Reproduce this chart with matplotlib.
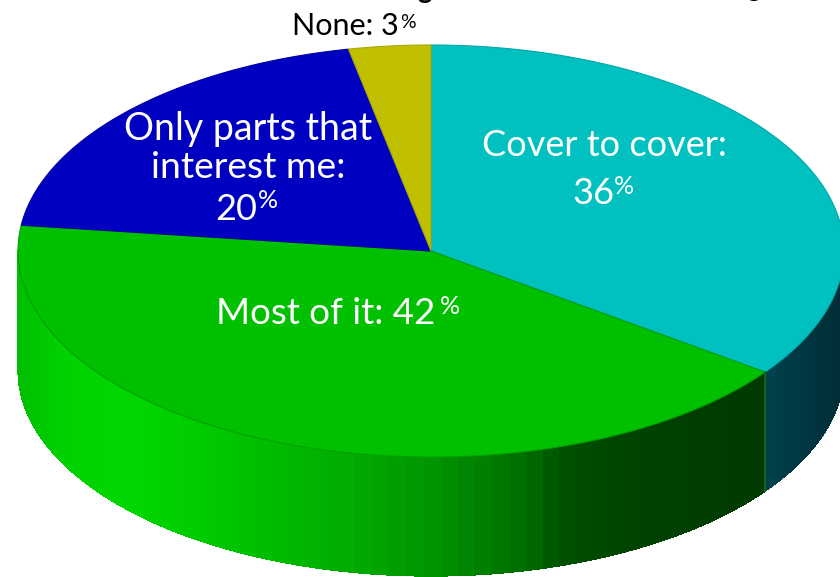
# -*- coding: utf-8 -*-
import matplotlib
matplotlib.use('Agg')
import matplotlib.pyplot as plt
from matplotlib.patches import Polygon
import numpy as np

plt.rcParams['font.family'] = ['Lato', 'DejaVu Sans']

# shares as they sit in the drawing, clockwise from 12 o'clock
categories = ['Cover to cover', 'Most of it', 'Only parts that interest me', 'None']
shares = [35, 42, 19.8, 3.2]

top_colors = ['#00c0c0', '#00c000', '#0000c0', '#c0c000']
edge_colors = ['#00a8a8', '#00a000', '#0000a0', '#a8a800']

# side shading, x position in pixels -> rgb
green_x = [18, 60, 130, 220, 350, 430, 520, 570, 640, 765]
green_rgb = [(0, 190, 0), (0, 208, 0), (0, 216, 0), (0, 198, 0), (0, 172, 0),
             (0, 148, 0), (0, 112, 0), (0, 78, 0), (0, 66, 0), (0, 58, 0)]
cyan_x = [765, 800, 840]
cyan_rgb = [(0, 66, 76), (0, 56, 66), (0, 46, 54)]

cx, cy = 431, 251
rx, ry = 413, 206
depth = 119


def rim(angle):
    # angle in degrees clockwise from the top of the ellipse
    a = np.radians(angle)
    return cx + rx * np.sin(a), cy - ry * np.cos(a)


def band_color(x, xs, rgb):
    vals = [np.interp(x, xs, [c[i] for c in rgb]) / 255 for i in range(3)]
    return tuple(vals)


def draw_side(ax, a0, a1, xs, rgb, step=2.4):
    # narrow vertical strips make the banded gradient of the wall
    angles = np.arange(a0, a1, step)
    for a, b in zip(angles, np.append(angles[1:], a1)):
        x0, y0 = rim(a)
        x1, y1 = rim(b)
        col = band_color((x0 + x1) / 2, xs, rgb)
        ax.add_patch(Polygon([(x0, y0), (x1, y1), (x1, y1 + depth), (x0, y0 + depth)],
                             facecolor=col, edgecolor=col, linewidth=0.3, antialiased=False))


def draw_pie(ax):
    cum = np.cumsum([0] + shares) * 3.6

    # the wall only shows on the front half
    draw_side(ax, 90, cum[1], cyan_x, cyan_rgb)
    draw_side(ax, cum[1], 270, green_x, green_rgb)
    x, y = rim(cum[1])
    ax.plot([x, x], [y, y + depth], color='#1c6a1c', linewidth=1.2)

    for i in range(len(shares)):
        t = np.linspace(cum[i], cum[i + 1], 150)
        px, py = rim(t)
        pts = [(cx, cy)] + list(zip(px, py))
        ax.add_patch(Polygon(pts, facecolor=top_colors[i], edgecolor=edge_colors[i],
                             linewidth=0.8, joinstyle='round'))


def draw_labels(ax):
    big = 26
    sup = 18
    ax.text(604, 145, 'Cover to cover:', color='white', fontsize=big, ha='center', va='center')
    ax.text(593, 194, '36', color='white', fontsize=big, ha='center', va='center')
    ax.text(624, 186, '%', color='white', fontsize=sup, ha='center', va='center')

    ax.text(326, 313, 'Most of it: 42', color='white', fontsize=26.5, ha='center', va='center')
    ax.text(450, 306, '%', color='white', fontsize=sup, ha='center', va='center')

    ax.text(248, 129, 'Only parts that', color='white', fontsize=27, ha='center', va='center')
    ax.text(248, 168, 'interest me:', color='white', fontsize=26.8, ha='center', va='center')
    ax.text(236, 209, '20', color='white', fontsize=big, ha='center', va='center')
    ax.text(268, 201, '%', color='white', fontsize=sup, ha='center', va='center')

    ax.text(345, 26, 'None: 3', color='black', fontsize=22, ha='center', va='center')
    ax.text(408, 22, '%', color='black', fontsize=14, ha='center', va='center')

    # descenders of the cropped title line
    ax.text(425, -2, 'g', color='black', fontsize=20, fontweight='bold', ha='center', va='baseline')
    ax.text(753, -4, 'g', color='black', fontsize=20, ha='center', va='baseline')


def main():
    fig = plt.figure(figsize=(8.4, 5.77), dpi=100)
    ax = fig.add_axes([0, 0, 1, 1])
    ax.set_xlim(0, 840)
    ax.set_ylim(577, 0)
    ax.axis('off')
    draw_pie(ax)
    draw_labels(ax)
    fig.savefig('out.png', dpi=100)


if __name__ == '__main__':
    main()
